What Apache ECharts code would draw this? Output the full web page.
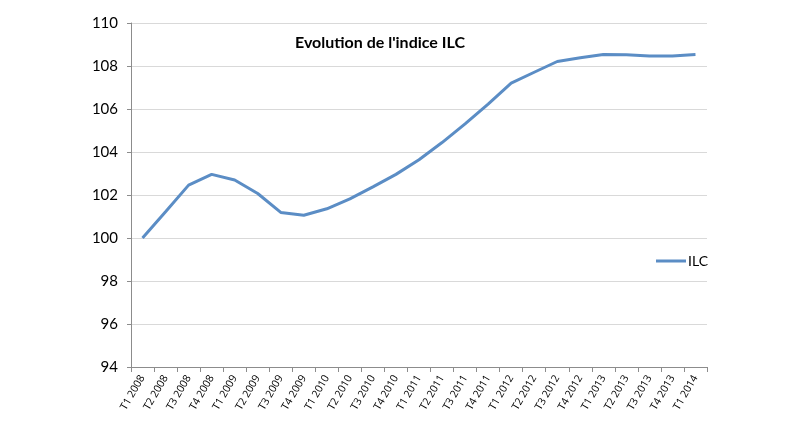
<!DOCTYPE html>
<html>
<head>
<meta charset="utf-8">
<script src="https://cdn.jsdelivr.net/npm/echarts@6/dist/echarts.min.js"></script>
<style>
  html, body { margin: 0; padding: 0; background: #fff; }
  #chart { width: 800px; height: 426px; }
</style>
</head>
<body>
<div id="chart"></div>
<script>
  // trimestres
  var categories = [
    'T1 2008', 'T2 2008', 'T3 2008', 'T4 2008',
    'T1 2009', 'T2 2009', 'T3 2009', 'T4 2009',
    'T1 2010', 'T2 2010', 'T3 2010', 'T4 2010',
    'T1 2011', 'T2 2011', 'T3 2011', 'T4 2011',
    'T1 2012', 'T2 2012', 'T3 2012', 'T4 2012',
    'T1 2013', 'T2 2013', 'T3 2013', 'T4 2013',
    'T1 2014'
  ];
  // indice ILC
  var ilc = [
    100.00, 101.22, 102.46, 102.96,
    102.70, 102.07, 101.19, 101.06,
    101.36, 101.82, 102.38, 102.96,
    103.64, 104.44, 105.31, 106.23,
    107.20, 107.71, 108.21, 108.38,
    108.53, 108.52, 108.47, 108.47,
    108.53
  ];

  var myChart = echarts.init(document.getElementById('chart'));
  var option = {
    animation: false,
    title: {
      text: "Evolution de l'indice ILC",
      left: 375,
      top: 30,
      textAlign: 'center',
      textStyle: { fontFamily: 'Lato', fontWeight: 'bold', fontSize: 16, color: '#000' }
    },
    legend: {
      data: ['ILC'],
      left: 651,
      top: 249,
      itemWidth: 30,
      itemHeight: 3,
      itemGap: 4,
      icon: 'rect',
      textStyle: { fontFamily: 'Lato', fontSize: 14, color: '#000', padding: [0, 0, 0, -3] }
    },
    grid: { left: 131, right: 93, top: 23, bottom: 59 },
    xAxis: {
      type: 'category',
      data: categories,
      boundaryGap: true,
      axisLine: { lineStyle: { color: '#8c8c8c' } },
      axisTick: { show: true, length: 5, lineStyle: { color: '#8c8c8c' } },
      axisLabel: {
        interval: 0,
        rotate: 60,
        fontFamily: 'Open Sans',
        fontSize: 10.5,
        color: '#000',
        margin: 9
      }
    },
    yAxis: {
      type: 'value',
      min: 94,
      max: 110,
      interval: 2,
      axisLine: { show: true, lineStyle: { color: '#8c8c8c' } },
      axisTick: { show: true, length: 4, lineStyle: { color: '#8c8c8c' } },
      axisLabel: { fontFamily: 'Lato', fontSize: 15, color: '#000', margin: 13 },
      splitLine: { lineStyle: { color: '#d9d9d9' } }
    },
    series: [{
      name: 'ILC',
      type: 'line',
      data: ilc,
      symbol: 'none',
      lineStyle: { width: 3, color: '#5b8dc5' },
      itemStyle: { color: '#5b8dc5' }
    }]
  };
  myChart.setOption(option);
</script>
</body>
</html>
